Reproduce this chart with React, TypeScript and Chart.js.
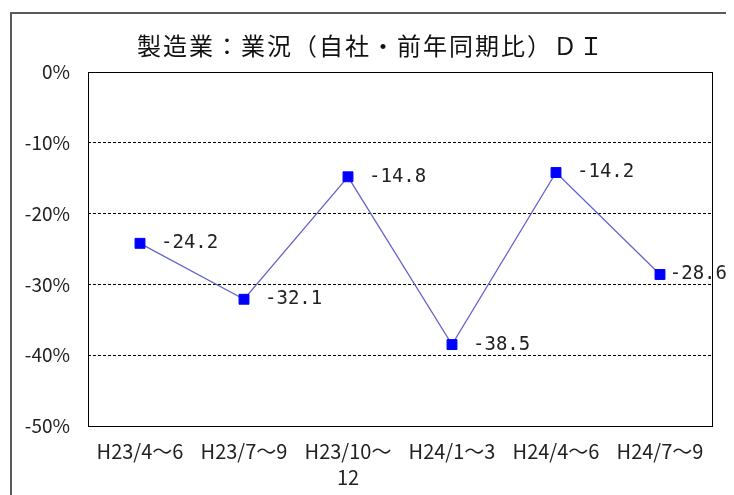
import React, { useEffect, useRef } from "react";
import { Chart, registerables } from "chart.js";

Chart.register(...registerables);

const titleText = "製造業：業況（自社・前年同期比）ＤＩ";
const categories: (string | string[])[] = [
  "H23/4～6",
  "H23/7～9",
  ["H23/10～", "12"],
  "H24/1～3",
  "H24/4～6",
  "H24/7～9",
];
const diValues = [-24.2, -32.1, -14.8, -38.5, -14.2, -28.6];
const yTicks = [0, -10, -20, -30, -40, -50];

const frameAndLabels = {
  id: "frameAndLabels",
  beforeDraw(chart: any) {
    const ctx = chart.ctx;
    ctx.save();
    ctx.strokeStyle = "#5a5a5a";
    ctx.lineWidth = 2;
    ctx.beginPath();
    ctx.moveTo(3, chart.height + 2);
    ctx.lineTo(3, 5);
    ctx.lineTo(chart.width + 2, 5);
    ctx.stroke();
    ctx.fillStyle = "#111";
    ctx.font = '24px "Noto Sans CJK JP"';
    (ctx as any).letterSpacing = "2px";
    ctx.textAlign = "center";
    ctx.textBaseline = "middle";
    ctx.fillText(titleText, 363, 38);
    ctx.restore();
  },
  afterDraw(chart: any) {
    const ctx = chart.ctx;
    const a = chart.chartArea;
    ctx.save();
    ctx.strokeStyle = "#000";
    ctx.lineWidth = 1;
    ctx.strokeRect(Math.round(a.left) + 0.5, Math.round(a.top) + 0.5, Math.round(a.right - a.left), Math.round(a.bottom - a.top));
    ctx.restore();
  },
  afterDatasetsDraw(chart: any) {
    const ctx = chart.ctx;
    const meta = chart.getDatasetMeta(0);
    ctx.save();
    ctx.font = '19px "DejaVu Sans Mono"';
    ctx.fillStyle = "#222";
    ctx.textAlign = "left";
    ctx.textBaseline = "middle";
    const limit = chart.width - 7;
    meta.data.forEach((pt: any, i: number) => {
      const txt = diValues[i].toFixed(1);
      const w = ctx.measureText(txt).width;
      const x = Math.min(pt.x + 21, limit - w);
      ctx.fillText(txt, x, pt.y);
    });
    ctx.restore();
  },
};

export default function App() {
  const ref = useRef<HTMLCanvasElement | null>(null);
  useEffect(() => {
    if (!ref.current) return;
    const chart = new Chart(ref.current, {
      type: "line",
      data: {
        labels: categories,
        datasets: [
          {
            data: diValues,
            borderColor: "#6464c8",
            borderWidth: 1.3,
            pointStyle: "rect",
            pointRadius: 7,
            pointBackgroundColor: "#0000ff",
            pointBorderColor: "#0000ff",
            pointBorderWidth: 1,
            tension: 0,
            clip: false as any,
          },
        ],
      },
      options: {
        animation: false,
        responsive: false,
        maintainAspectRatio: false,
        layout: { padding: { left: 0, right: 22, top: 64, bottom: 0 } },
        plugins: {
          legend: { display: false },
          title: { display: false },
          tooltip: { enabled: false },
        },
        scales: {
          x: {
            offset: true,
            grid: { display: false, drawTicks: false },
            border: { display: false },
            ticks: {
              color: "#222",
              padding: 12,
              maxRotation: 0,
              autoSkip: false,
              font: { family: '"Noto Sans CJK JP"', size: 20, lineHeight: 1.3 },
            },
            afterFit(scale: any) {
              scale.height = 69;
            },
          },
          y: {
            min: -50,
            max: 0,
            afterBuildTicks(scale: any) {
              scale.ticks = yTicks.map((v) => ({ value: v }));
            },
            grid: {
              drawTicks: false,
              color: (c: any) => (c.tick && (c.tick.value === 0 || c.tick.value === -50) ? "rgba(0,0,0,0)" : "#000"),
              lineWidth: 1,
            },
            border: { display: false, dash: [3, 2] },
            ticks: {
              color: "#222",
              padding: 18,
              font: { family: '"Noto Sans CJK JP"', size: 19 },
              callback: (v: any) => v + "%",
            },
            afterFit(scale: any) {
              scale.width = 80;
            },
          },
        },
      },
      plugins: [frameAndLabels],
    });
    return () => chart.destroy();
  }, []);
  return (
    <div style={{ width: 726, height: 487 }}>
      <canvas ref={ref} width={726} height={487} style={{ display: "block" }} />
    </div>
  );
}
